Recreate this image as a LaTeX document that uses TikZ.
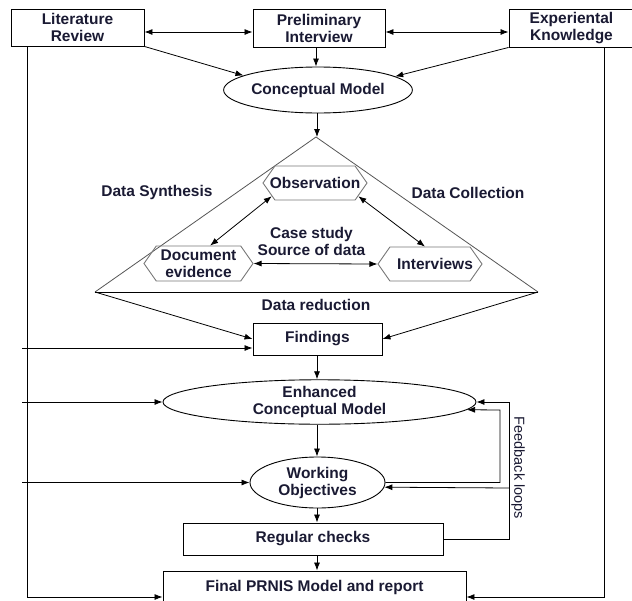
\documentclass[tikz,border=0pt]{standalone}
\usepackage{fontspec}
\setmainfont{Liberation Sans}
\usetikzlibrary{shapes.geometric,shapes.symbols,arrows.meta}
\definecolor{txt}{HTML}{1A1A33}
\definecolor{hexc}{HTML}{777777}
\definecolor{tric}{HTML}{555555}
\begin{document}
\begin{tikzpicture}[x=1pt,y=-1pt,
  every node/.style={text=txt, font=\bfseries\fontsize{15.5}{17}\selectfont, align=center, inner sep=0pt},
  box/.style={draw, rectangle, line width=0.9pt},
  ell/.style={draw, ellipse, line width=0.9pt},
  hexa/.style={draw=hexc, line width=0.9pt, signal, signal to=east and west, signal pointer angle=110},
  arr/.style={-{Latex[length=8pt,width=6pt]}, line width=0.8pt},
  darr/.style={{Latex[length=8pt,width=6pt]}-{Latex[length=8pt,width=6pt]}, line width=0.8pt},
  ln/.style={line width=0.8pt}]
\useasboundingbox (0,0) rectangle (632,600);
\clip (0,0) rectangle (632,600);

% top boxes
\node[box, minimum width=133pt, minimum height=37pt] (lit) at (77.5,27.5) {Literature\\Review};
\node[box, minimum width=132pt, minimum height=38pt] (pre) at (319,28) {Preliminary\\Interview};
\node[box, minimum width=125pt, minimum height=38pt] (exp) at (571.5,28) {Experiental\\Knowledge};

\node[ell, minimum width=174pt, minimum height=46pt] (cm) at (318,90) {Conceptual Model};

% triangle
\coordinate (apex) at (316,137);
\coordinate (tl) at (95,292);
\coordinate (tr) at (538,292);
\draw[tric, line width=0.8pt] (tl) -- (apex) -- (tr);
\draw[ln] (tl) -- (tr);

\node[hexa, minimum width=104pt, minimum height=34pt, label={[name=obst]center:Observation}] (obs) at (315,183) {};
\node[hexa, minimum width=109pt, minimum height=35pt, label={[name=doct]center:Document\\evidence}] (doc) at (198.5,263.5) {};
\node[hexa, minimum width=104pt, minimum height=34pt, label={[name=intt,xshift=5pt]center:Interviews}] (int) at (430,264) {};

\node (cs) at (311.5,241.5) {Case study\\Source of data};
\node (ds) at (157,192) {Data Synthesis};
\node (dc) at (468,193) {Data Collection};
\node (dr) at (316,305) {Data reduction};

% lower chain
\node[box, minimum width=129pt, minimum height=32pt] (fi) at (317.5,339) {Findings};
\node[ell, minimum width=313pt, minimum height=43pt] (enh) at (319.5,402) {Enhanced\\Conceptual Model};
\node[ell, minimum width=135pt, minimum height=51pt] (wo) at (317.5,482.5) {Working\\Objectives};
\node[box, minimum width=260pt, minimum height=32pt] (rc) at (313,539) {Regular checks};
\node[box, minimum width=303pt, minimum height=32pt] (fin) at (314.5,587) {Final PRNIS Model and report};

\node[rotate=-90, font=\fontsize{14.5}{17}\selectfont] (fb) at (518,468) {Feedback loops};

% connectors top
\draw[darr] (lit.east |- 0,32) -- (pre.west |- 0,32);
\draw[darr] (pre.east |- 0,32) -- (exp.west |- 0,32);
\draw[arr] (lit.south east) -- (cm.169);
\draw[arr] (pre.south -| 316,0) -- (cm.north -| 316,0);
\draw[arr] (exp.south west) -- (cm.10);
\draw[arr] (cm.south -| 317,0) -- (apex -| 317,0);

% inside triangle
\draw[darr] (obs.197) -- (doc.57);
\draw[darr] (obs.-17) -- (int.106);
\draw[darr] (doc.east) -- (int.west);

% data reduction
\draw[arr] (tl) -- (fi.west);
\draw[arr] (tr) -- (fi.east);

% side rails
\coordinate (lb) at (27,597);
\coordinate (rb) at (604,597);
\draw[arr] (lit.south -| lb) -- (lb) -- (lb -| fin.west);
\draw[arr] (exp.south -| rb) -- (rb) -- (rb -| fin.east);
\draw[arr] (22,348) -- (fi.west |- 0,348);
\draw[arr] (enh.west -| 22,0) -- (enh.west);
\draw[arr] (wo.west -| 22,0) -- (wo.west);

% vertical chain
\draw[arr] (fi.south -| 317,0) -- (enh.north -| 317,0);
\draw[arr] (enh.south -| 317,0) -- (wo.north -| 317,0);
\draw[arr] (wo.south -| 317,0) -- (rc.north -| 317,0);
\draw[arr] (rc.south -| 317,0) -- (fin.north -| 317,0);

% feedback loops
\draw[arr] (wo.east) -| (500,410) -- (enh.-3.2);
\draw[arr] (rc.east) -| (509,402) -- (enh.east);
\draw[arr] (509,488) -- (wo.-4.8);
\end{tikzpicture}
\end{document}
